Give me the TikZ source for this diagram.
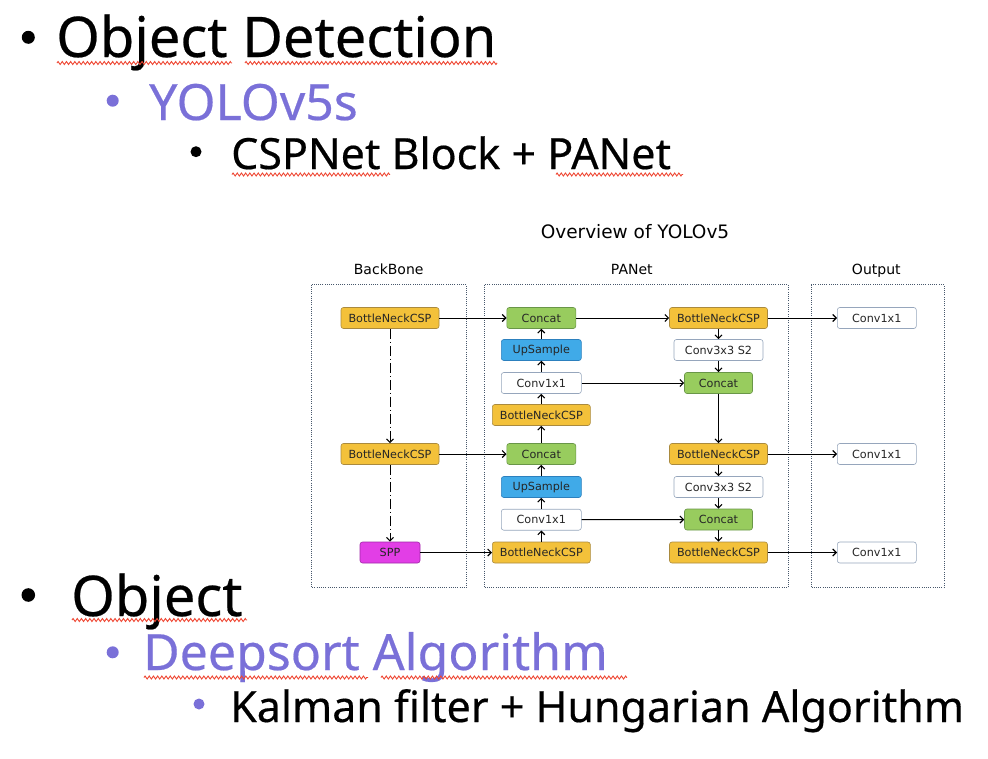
\documentclass[tikz,border=0pt]{standalone}
\usepackage{fontspec}
\setmainfont{Noto Sans}[FakeBold=0.4]
\newfontfamily\diagfont{DejaVu Sans}
\usetikzlibrary{arrows.meta,decorations.pathmorphing}

\definecolor{slidepurple}{RGB}{122,112,216}
\definecolor{spellred}{RGB}{238,70,50}
\definecolor{cspgold}{RGB}{243,193,58}
\definecolor{cspedge}{RGB}{170,138,62}
\definecolor{catgreen}{RGB}{152,204,94}
\definecolor{catedge}{RGB}{105,150,72}
\definecolor{upblue}{RGB}{64,170,232}
\definecolor{upedge}{RGB}{44,128,190}
\definecolor{sppmag}{RGB}{226,62,230}
\definecolor{sppedge}{RGB}{160,40,168}
\definecolor{convedge}{RGB}{150,166,188}
\definecolor{groupedge}{RGB}{72,88,108}

\begin{document}
\begin{tikzpicture}[x=1pt,y=-1pt,
  lvlone/.style={anchor=base west,inner sep=0pt,font=\fontsize{56}{60}\selectfont},
  lvltwo/.style={anchor=base west,inner sep=0pt,text=slidepurple,font=\fontsize{50}{54}\selectfont},
  lvlthree/.style={anchor=base west,inner sep=0pt,font=\fontsize{43}{47}\selectfont},
  squiggle/.style={draw=spellred,line width=0.9pt,decorate,
    decoration={zigzag,segment length=4.2pt,amplitude=1.5pt}},
  blk/.style={draw,rounded corners=2.5pt,line width=0.6pt,minimum height=21pt,
    inner sep=0pt,font=\diagfont\fontsize{11.2}{13}\selectfont,text=black!85},
  csp/.style={blk,fill=cspgold,draw=cspedge,minimum width=98pt},
  cat/.style={blk,fill=catgreen,draw=catedge,minimum width=69pt},
  ups/.style={blk,fill=upblue,draw=upedge,minimum width=80pt},
  conv/.style={blk,fill=white,draw=convedge,minimum width=80pt},
  sppbox/.style={blk,fill=sppmag,draw=sppedge,minimum width=60pt},
  group/.style={draw=groupedge,line width=0.9pt,dash pattern=on 0.9pt off 1.3pt},
  heading/.style={inner sep=0pt,anchor=base,font=\diagfont\fontsize{14}{16}\selectfont},
  flow/.style={line width=1pt,-{Straight Barb[length=3.5pt,width=7pt,line width=1.1pt]}},
  skip/.style={flow,dash pattern=on 10pt off 3pt on 1pt off 3pt}
]
\useasboundingbox (0,0) rectangle (988,758);

% ---- bullet list ----
\fill (28.3,37.3) circle (6.5);
\node[lvlone] (t1) at (56,57) {Object Detection};
\fill[slidepurple] (112.7,100.7) circle (6);
\node[lvltwo] (t2) at (149,120) {YOLOv5s};
\fill (196,151.7) circle (5.5);
\node[lvlthree] (t3) at (231,169) {CSPNet Block + PANet};

\fill (28.3,595) circle (6.8);
\node[lvlone] (t4) at (71,616) {Object};
\fill[slidepurple] (112.7,652.3) circle (6);
\node[lvltwo] (t5) at (143,670) {Deepsort Algorithm};
\fill[slidepurple] (199,704) circle (5.5);
\node[lvlthree] (t6) at (230,722) {Kalman filter + Hungarian Algorithm};

% spell-check underlines
\draw[squiggle] (57,63) -- (232,63);
\draw[squiggle] (245,63) -- (497,63);
\draw[squiggle] (232,174.5) -- (390,174.5);
\draw[squiggle] (556,174.5) -- (683,174.5);
\draw[squiggle] (72,620) -- (247,620);
\draw[squiggle] (144,677.5) -- (368,677.5);
\draw[squiggle] (381,677.5) -- (627,677.5);

% ---- network overview ----
\node[inner sep=0pt,anchor=base,font=\diagfont\fontsize{18.5}{21}\selectfont] (title) at (635,238) {Overview of YOLOv5};
\node[heading] (hbb) at (388.7,274.3) {BackBone};
\node[heading] (hpan) at (631.8,274.3) {PANet};
\node[heading] (hout) at (876.3,274.3) {Output};

\draw[group] (311.5,284.5) rectangle (466.5,587.5);
\draw[group] (484,284.5) rectangle (788,587.5);
\draw[group] (811,284.5) rectangle (944,587.5);

% backbone
\node[csp] (bb1) at (390,318) {BottleNeckCSP};
\node[csp] (bb2) at (390,454) {BottleNeckCSP};
\node[sppbox] (spp) at (390,552.5) {SPP};

% PANet, upward path
\node[cat]  (pc1) at (541.3,318) {Concat};
\node[ups]  (pu1) at (541.3,350) {UpSample};
\node[conv] (pv1) at (541.3,383) {Conv1x1};
\node[csp]  (pb1) at (541.3,415) {BottleNeckCSP};
\node[cat]  (pc2) at (541.3,454) {Concat};
\node[ups]  (pu2) at (541.3,487) {UpSample};
\node[conv] (pv2) at (541.3,519.7) {Conv1x1};
\node[csp]  (pb2) at (541.3,552.5) {BottleNeckCSP};

% PANet, downward path
\node[csp] (rb1) at (718.5,318) {BottleNeckCSP};
\node[conv,minimum width=89pt] (rs1) at (718.5,350) {Conv3x3 S2};
\node[cat,minimum width=68pt] (rc1) at (718.5,383) {Concat};
\node[csp] (rb2) at (718.5,454) {BottleNeckCSP};
\node[conv,minimum width=89pt] (rs2) at (718.5,487) {Conv3x3 S2};
\node[cat,minimum width=68pt] (rc2) at (718.5,519.5) {Concat};
\node[csp] (rb3) at (718.5,552.5) {BottleNeckCSP};

% output heads
\node[conv,minimum width=79pt] (o1) at (876.8,318) {Conv1x1};
\node[conv,minimum width=79pt] (o2) at (876.8,454) {Conv1x1};
\node[conv,minimum width=79pt] (o3) at (876.8,552.5) {Conv1x1};

% connections
\draw[skip] (bb1) -- (bb2);
\draw[skip] (bb2) -- (spp);

\draw[flow] (bb1) -- (pc1);
\draw[flow] (bb2) -- (pc2);
\draw[flow] (spp) -- (pb2);

\draw[flow] (pb2) -- (pv2);
\draw[flow] (pv2) -- (pu2);
\draw[flow] (pu2) -- (pc2);
\draw[flow] (pc2) -- (pb1);
\draw[flow] (pb1) -- (pv1);
\draw[flow] (pv1) -- (pu1);
\draw[flow] (pu1) -- (pc1);

\draw[flow] (pc1) -- (rb1);
\draw[flow] (pv1) -- (rc1);
\draw[flow] (pv2) -- (rc2);

\draw[flow] (rb1) -- (rs1);
\draw[flow] (rs1) -- (rc1);
\draw[flow] (rc1) -- (rb2);
\draw[flow] (rb2) -- (rs2);
\draw[flow] (rs2) -- (rc2);
\draw[flow] (rc2) -- (rb3);

\draw[flow] (rb1) -- (o1);
\draw[flow] (rb2) -- (o2);
\draw[flow] (rb3) -- (o3);
\end{tikzpicture}
\end{document}
